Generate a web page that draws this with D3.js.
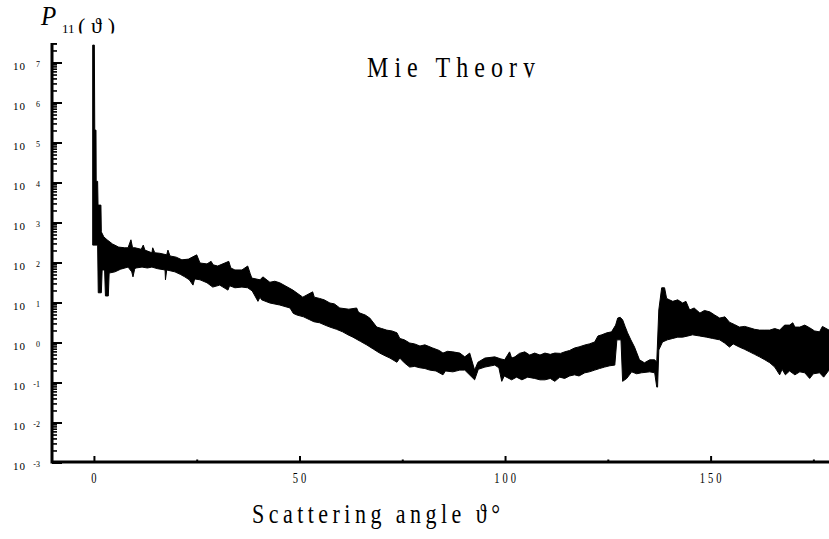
<!DOCTYPE html>
<html>
<head>
<meta charset="utf-8">
<script src="https://cdn.jsdelivr.net/npm/d3@7"></script>
<style>
  body { margin: 0; background: #fff; }
  svg { display: block; }
</style>
</head>
<body>
<svg id="chart" width="829" height="539" viewBox="0 0 829 539"></svg>
<script>
// Phase function P11 from Mie theory: the rapidly oscillating curve is drawn
// as a filled band between its upper and lower envelopes.
const upperAngle = [-0.3, 0.1, 0.2, 0.5, 0.55, 0.9, 1.0, 1.7, 1.8, 2.4, 3.2, 4.5, 6.0, 7.5, 8.3, 9.0, 9.4, 10.0,
  11.5, 12.0, 12.4, 14.1, 14.3, 14.8, 16.0, 17.7, 18.0, 18.5, 20.0, 21.4, 23.0, 25.0, 25.8, 27.5, 28.5, 29.0,
  30.1, 32.8, 33.3, 34.3, 36.0, 37.4, 38.0, 38.4, 40.4, 41.1, 42.8, 44.0, 45.2, 46.5, 48.4, 50.8, 53.2, 53.6,
  54.9, 56.0, 57.4, 58.5, 59.8, 62.0, 63.9, 64.3, 64.7, 66.0, 67.1, 68.8, 70.0, 71.2, 72.5, 73.7, 74.4, 75.5,
  76.8, 78.0, 79.3, 80.5, 82.4, 84.0, 84.9, 86.0, 87.3, 89.0, 90.2, 91.4, 92.6, 93.4, 95.1, 97.5, 99.0, 99.9,
  101.1, 101.6, 102.4, 103.5, 104.8, 106.0, 107.2, 108.5, 109.7, 111.0, 112.1, 113.5, 114.5, 115.7, 116.9,
  118.0, 119.4, 120.5, 121.8, 122.6, 123.5, 124.8, 125.9, 126.9, 127.4, 128.0, 128.6, 129.2, 129.8, 130.6,
  131.5, 132.7, 133.9, 135.2, 136.4, 136.9, 137.4, 138.1, 138.8, 139.3, 140.0, 140.8, 142.0, 143.2, 144.0,
  144.9, 146.0, 147.4, 148.5, 149.8, 151.0, 152.2, 153.5, 154.6, 155.8, 157.0, 158.3, 159.5, 160.7, 161.9,
  163.2, 164.4, 165.6, 166.8, 168.0, 169.2, 170.0, 170.5, 171.7, 172.9, 174.1, 175.3, 176.5, 177.2, 178.8];
const upperValue = [2.8e7, 2.8e7, 2.1e5, 2.1e5, 1.1e4, 1.1e4, 2800, 2800, 600, 450, 380, 300, 250, 240, 240, 380, 240, 240,
  220, 280, 210, 180, 240, 180, 175, 160, 210, 150, 140, 120, 125, 160, 100, 95, 110, 90,
  84, 110, 75, 67, 67, 84, 55, 42, 38, 45, 33, 35, 32, 27, 21, 14, 19, 14,
  13, 12, 10, 9.5, 7.5, 7.0, 7.5, 6.0, 5.6, 5.0, 4.2, 2.5, 2.3, 2.1, 2.0, 1.8, 1.3, 1.2,
  1.0, 0.95, 0.84, 0.9, 0.75, 0.65, 0.56, 0.62, 0.6, 0.56, 0.45, 0.56, 0.21, 0.33, 0.42, 0.45, 0.4, 0.38,
  0.6, 0.42, 0.45, 0.55, 0.6, 0.5, 0.56, 0.5, 0.56, 0.52, 0.56, 0.55, 0.6, 0.65, 0.75,
  0.8, 0.89, 0.95, 1.06, 1.5, 1.6, 1.8, 1.9, 2.8, 4.2, 4.4, 3.8, 2.6, 1.8, 1.2,
  0.79, 0.38, 0.32, 0.38, 0.38, 0.33, 6.7, 24, 24, 13, 12, 11, 12, 10, 11,
  6.7, 7.5, 5.6, 6.5, 6.0, 5.0, 4.2, 4.5, 3.3, 2.9, 2.5, 2.6, 2.4, 2.2, 2.1,
  2.1, 2.1, 2.3, 2.1, 2.8, 2.8, 3.2, 2.5, 2.5, 2.8, 2.4, 2.0, 1.9, 2.6, 2.1];

const lowerAngle = [-0.3, 0.9, 1.05, 1.8, 2.0, 2.6, 2.8, 3.5, 3.7, 5.1, 6.5, 8.3, 9.2, 9.5, 9.9, 10.2, 11.7, 13.0,
  14.1, 15.5, 17.3, 17.4, 17.7, 19.7, 21.0, 22.1, 23.2, 24.1, 24.5, 25.8, 27.5, 28.9, 30.6, 32.6, 33.0, 34.3,
  36.0, 37.4, 38.5, 39.9, 40.4, 40.8, 42.8, 45.2, 47.7, 48.5, 49.4, 51.0, 52.5, 53.5, 54.9, 56.2, 57.4, 59.0,
  60.5, 61.8, 63.0, 64.8, 66.4, 68.0, 69.5, 70.8, 72.0, 73.7, 74.4, 75.5, 76.8, 78.0, 79.3, 80.5, 81.7, 83.2,
  84.9, 85.5, 87.3, 89.0, 90.2, 92.6, 93.5, 95.1, 97.5, 98.5, 99.2, 99.8, 101.6, 102.8, 104.1, 105.5, 107.2,
  108.5, 109.7, 111.0, 112.1, 113.3, 114.5, 115.7, 116.9, 118.0, 119.4, 120.5, 121.8, 123.0, 124.2, 125.5,
  126.7, 127.2, 128.2, 128.6, 129.6, 130.8, 132.0, 133.2, 135.2, 136.4, 136.9, 137.1, 137.4, 138.3, 139.5,
  140.8, 142.0, 143.2, 144.5, 145.6, 147.3, 149.0, 150.5, 152.2, 153.4, 154.6, 155.5, 157.0, 158.2, 159.5,
  160.7, 161.9, 163.2, 164.4, 165.6, 166.8, 167.4, 168.2, 169.2, 170.5, 171.7, 172.9, 174.1, 175.0, 176.5,
  177.5, 178.8];
const lowerValue = [280, 280, 18, 18, 67, 67, 15, 15, 56, 60, 70, 79, 60, 45, 70, 75, 79, 75,
  79, 72, 67, 38, 67, 60, 52, 45, 38, 28, 40, 38, 32, 25, 28, 21, 27, 24,
  25, 24, 20, 11, 14, 12, 10, 8.9, 7.5, 5.5, 5.0, 4.5, 3.8, 3.4, 3.2, 2.8, 2.5, 2.2,
  1.9, 1.6, 1.4, 1.1, 0.89, 0.7, 0.56, 0.48, 0.42, 0.33, 0.42, 0.32, 0.25, 0.26, 0.24, 0.23, 0.21, 0.2,
  0.16, 0.2, 0.19, 0.21, 0.21, 0.12, 0.22, 0.25, 0.28, 0.24, 0.11, 0.15, 0.12, 0.14, 0.12, 0.14, 0.13,
  0.12, 0.12, 0.13, 0.11, 0.14, 0.13, 0.15, 0.16, 0.15, 0.18, 0.19, 0.21, 0.23, 0.25, 0.27,
  0.28, 1.2, 1.2, 0.11, 0.13, 0.19, 0.17, 0.18, 0.19, 0.18, 0.079, 0.079, 0.67, 1.06, 1.2,
  1.3, 1.4, 1.4, 1.5, 1.6, 1.5, 1.4, 1.3, 1.2, 1.0, 0.79, 0.95, 0.79, 0.7, 0.6,
  0.52, 0.45, 0.38, 0.32, 0.25, 0.16, 0.22, 0.16, 0.2, 0.16, 0.19, 0.18, 0.13, 0.17, 0.18,
  0.14, 0.21];

const xMajorTicks = [0, 50, 100, 150];
const xMinorTicks = [25, 75, 125, 175];
const yDecades = [-3, -2, -1, 0, 1, 2, 3, 4, 5, 6, 7];
const chartTitle = "Mie Theory";
const xTitle = "Scattering angle  \u03D1\u00B0";

const serif = "'Liberation Serif', 'Times New Roman', serif";
const svg = d3.select("#chart");

const x = d3.scaleLinear().domain([-10.2, 178.8]).range([52, 829]);
const y = d3.scaleLog().domain([1e-3, Math.pow(10, 7.5)]).range([463, 43]);

// Log-axis tick values: decades plus 2..9 subdivisions
const yMajor = yDecades.map(e => Math.pow(10, e));
const yMinor = [];
yDecades.forEach(e => {
  for (let k = 2; k <= 9; k++) {
    const v = k * Math.pow(10, e);
    if (v < Math.pow(10, 7.5)) yMinor.push(v);
  }
});

// Band between envelopes
const upper = upperAngle.map((a, i) => [a, upperValue[i]]);
const lower = lowerAngle.map((a, i) => [a, lowerValue[i]]);
const outline = upper.concat(lower.slice().reverse());
const line = d3.line().x(d => x(d[0])).y(d => y(d[1]));
svg.append("path")
  .attr("d", line(outline) + "Z")
  .attr("fill", "#000")
  .attr("stroke", "#000")
  .attr("stroke-width", 1)
  .attr("stroke-linejoin", "miter");

// X axis ticks and labels
const gx = svg.append("g").attr("transform", "translate(0,462)")
  .call(d3.axisBottom(x).tickValues(xMajorTicks).tickSizeInner(-6).tickSizeOuter(0).tickFormat(d3.format("d")));
gx.select(".domain").remove();
gx.selectAll(".tick line").attr("stroke", "#000").attr("stroke-width", 2);
gx.selectAll(".tick text")
  .attr("y", 0).attr("dy", 0)
  .attr("transform", "translate(1,21) scale(1,1.4)")
  .attr("font-family", serif).attr("font-size", 10.5)
  .attr("letter-spacing", 3).attr("fill", "#000");

const gxm = svg.append("g").attr("transform", "translate(0,462)")
  .call(d3.axisBottom(x).tickValues(xMinorTicks).tickSizeInner(-2.5).tickSizeOuter(0).tickFormat(""));
gxm.select(".domain").remove();
gxm.selectAll(".tick line").attr("stroke", "#000").attr("stroke-width", 2);

// Y tick labels 10^n
const gy = svg.append("g").attr("transform", "translate(52,0)")
  .call(d3.axisLeft(y).tickValues(yMajor).tickSize(0).tickPadding(26).tickFormat(() => "10"));
gy.select(".domain").remove();
gy.selectAll(".tick text")
  .attr("y", 6).attr("dy", 0)
  .attr("font-family", serif).attr("font-size", 11)
  .attr("letter-spacing", 1).attr("fill", "#000");
gy.selectAll(".tick").append("text")
  .attr("x", -12).attr("y", 3)
  .attr("text-anchor", "end")
  .attr("font-family", serif).attr("font-size", 8)
  .attr("fill", "#000")
  .text(d => String(Math.round(Math.log10(d))));

// Clip regions for the text blocks
const defs = svg.append("defs");
defs.append("clipPath").attr("id", "clipTitle")
  .append("rect").attr("x", 0).attr("y", 0).attr("width", 829).attr("height", 77.5);
defs.append("clipPath").attr("id", "clipYLabel")
  .append("rect").attr("x", 0).attr("y", 0).attr("width", 200).attr("height", 33.5);

// Title
svg.append("g").attr("clip-path", "url(#clipTitle)")
  .append("g").attr("transform", "translate(367,77) scale(1,1.25)")
  .append("text")
  .attr("font-family", serif).attr("font-size", 24).attr("fill", "#000")
  .attr("textLength", 168).attr("lengthAdjust", "spacing")
  .text(chartTitle);

// X axis title
svg.append("g").attr("transform", "translate(252,523) scale(1,1.25)")
  .append("text")
  .attr("font-family", serif).attr("font-size", 22).attr("fill", "#000")
  .attr("textLength", 248).attr("lengthAdjust", "spacing")
  .text(xTitle);

// Y axis title P11(theta)
const yl = svg.append("g").attr("clip-path", "url(#clipYLabel)");
yl.append("g").attr("transform", "translate(41,25) scale(1,1.1)")
  .append("text")
  .attr("font-family", serif).attr("font-size", 25).attr("font-style", "italic").attr("fill", "#000")
  .text("P");
yl.append("text").attr("x", 62).attr("y", 33)
  .attr("font-family", serif).attr("font-size", 13).attr("fill", "#000")
  .text("11");
yl.append("text").attr("x", 78).attr("y", 33)
  .attr("font-family", serif).attr("font-size", 22).attr("fill", "#000")
  .attr("textLength", 37).attr("lengthAdjust", "spacing")
  .text("(\u03D1)");

// Frame (drawn last, on top): the two axis spines as one L-shaped path
const x0 = x.range()[0], x1 = x.range()[1];
const yTop = y.range()[1], yBot = y.range()[0] - 1;
svg.append("path")
  .attr("class", "frame")
  .attr("d", `M${x0},${yTop}L${x0},${yBot}L${x1},${yBot}`)
  .attr("fill", "none")
  .attr("stroke", "#000")
  .attr("stroke-width", 3)
  .attr("stroke-linejoin", "miter");

// Y ticks pointing into the plot
const yTickG = svg.append("g").attr("class", "y-ticks");
yTickG.selectAll("path.major").data(yMajor).join("path")
  .attr("class", "major")
  .attr("d", d => `M${x0},${y(d)}h10`)
  .attr("stroke", "#000").attr("stroke-width", 2);
yTickG.selectAll("path.minor").data(yMinor.concat([Math.pow(10, 7.48)])).join("path")
  .attr("class", "minor")
  .attr("d", d => `M${x0},${y(d)}h5`)
  .attr("stroke", "#000").attr("stroke-width", 1.6);
</script>
</body>
</html>
